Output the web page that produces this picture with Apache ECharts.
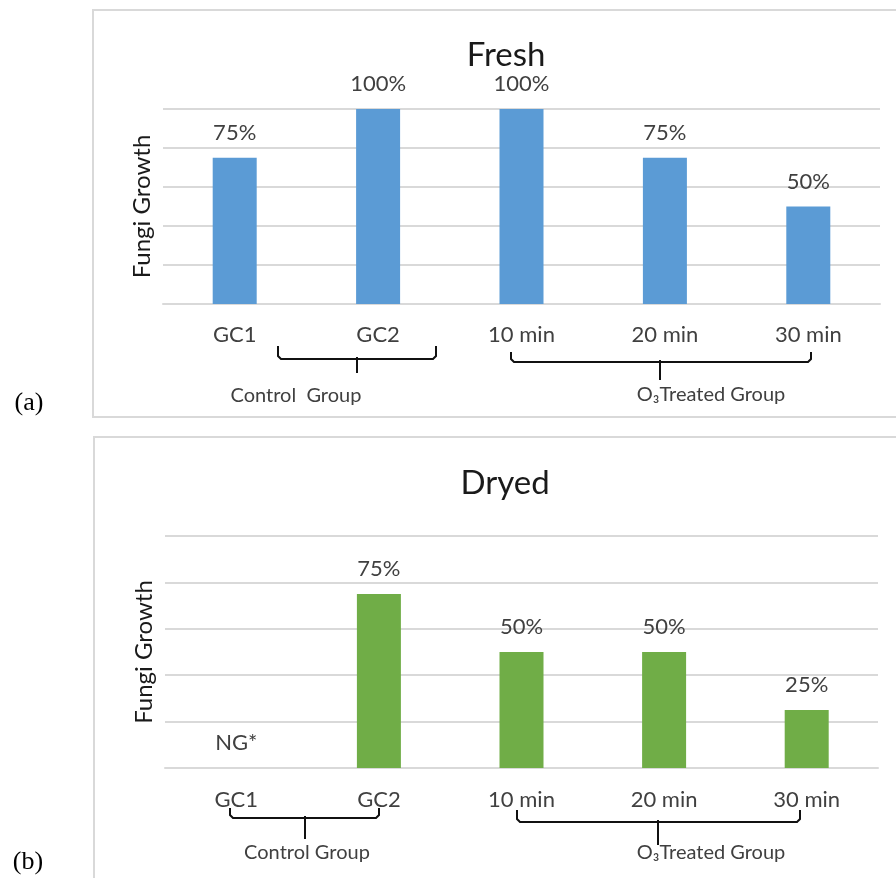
<!DOCTYPE html>
<html>
<head>
<meta charset="utf-8">
<script src="https://cdn.jsdelivr.net/npm/echarts@6/dist/echarts.min.js"></script>
<style>
html,body{margin:0;padding:0;background:#fff;}
#c{width:896px;height:878px;}
</style>
</head>
<body>
<div id="c"></div>
<script>
// ---- data ----
const categories = ['GC1', 'GC2', '10 min', '20 min', '30 min'];
const freshValues = [75, 100, 100, 75, 50];
const freshLabels = ['75%', '100%', '100%', '75%', '50%'];
const dryValues = [0, 75, 50, 50, 25];
const dryLabels = ['NG*', '75%', '50%', '50%', '25%'];
const yMin = 0, yMax = 100, yInterval = 20;
const titles = ['Fresh', 'Dryed'];
const yName = 'Fungi Growth';
const panelTags = ['(a)', '(b)'];
const groupNames = [['Control  Group', 'O₃Treated Group'], ['Control Group', 'O₃Treated Group']];

const FONT = 'Lato';
const GRID_COL = '#d9d9d9';
const TXT = '#404040';

function xAx(gi, margin) {
  return {
    gridIndex: gi, type: 'category', data: categories,
    axisLine: {lineStyle: {color: GRID_COL, width: 2}},
    axisTick: {length: 7, lineStyle: {color: GRID_COL, width: 2}},
    axisLabel: {margin: margin, fontSize: 22, color: TXT, fontFamily: FONT, interval: 0}
  };
}
function yAx(gi) {
  return {
    gridIndex: gi, type: 'value', min: yMin, max: yMax, interval: yInterval,
    axisLabel: {show: false}, axisLine: {show: false}, axisTick: {show: false},
    splitLine: {lineStyle: {color: GRID_COL, width: 2}},
    name: yName, nameLocation: 'middle', nameRotate: 90, nameGap: 9,
    nameTextStyle: {fontSize: 24, color: '#1a1a1a', fontFamily: FONT}
  };
}
function barSeries(gi, values, labels, color) {
  return {
    type: 'bar', xAxisIndex: gi, yAxisIndex: gi, data: values, barWidth: 44,
    itemStyle: {color: color},
    label: {
      show: true, position: 'top', distance: 14, fontSize: 22, color: TXT, fontFamily: FONT,
      formatter: p => labels[p.dataIndex]
    }
  };
}

function bracket(x1, x2, yTop, yH, xs, ySpike) {
  const r = 3;
  return [
    {type: 'polyline', silent: true,
     shape: {points: [[x1, yTop], [x1, yH - r], [x1 + r, yH], [x2 - r, yH], [x2, yH - r], [x2, yTop]]},
     style: {stroke: '#111', lineWidth: 2, fill: null}},
    {type: 'line', silent: true,
     shape: {x1: xs, y1: yH - 2, x2: xs, y2: ySpike},
     style: {stroke: '#111', lineWidth: 2}}
  ];
}
function txt(x, y, s, size, family, color) {
  return {type: 'text', x: x, y: y, silent: true,
    style: {text: s, fontSize: size, fontFamily: family, fill: color, align: 'center', verticalAlign: 'middle'}};
}

const graphics = [
  {type: 'polyline', silent: true, shape: {points: [[896, 10], [93, 10], [93, 417], [896, 417]]},
   style: {stroke: GRID_COL, lineWidth: 2, fill: null}},
  {type: 'polyline', silent: true, shape: {points: [[896, 437], [94, 437], [94, 880]]},
   style: {stroke: GRID_COL, lineWidth: 2, fill: null}},
  txt(29, 403, panelTags[0], 26, 'Liberation Serif', '#000'),
  txt(28, 862, panelTags[1], 26, 'Liberation Serif', '#000'),
  ...bracket(278, 436, 346, 359, 357, 373),
  ...bracket(511, 811, 352, 362, 660, 380),
  ...bracket(230, 379, 808, 818, 305, 839),
  ...bracket(517, 800, 810, 822, 658, 845),
  txt(296, 396, groupNames[0][0], 20, FONT, TXT),
  txt(711, 395, groupNames[0][1], 20, FONT, TXT),
  txt(307, 853, groupNames[1][0], 20, FONT, TXT),
  txt(711, 853, groupNames[1][1], 20, FONT, TXT)
];

const option = {
  animation: false,
  backgroundColor: '#fff',
  title: [
    {text: titles[0], left: 501, top: 34, textAlign: 'center',
     textStyle: {fontSize: 33, fontWeight: 'normal', color: '#1a1a1a', fontFamily: FONT}},
    {text: titles[1], left: 500, top: 462, textAlign: 'center',
     textStyle: {fontSize: 33, fontWeight: 'normal', color: '#1a1a1a', fontFamily: FONT}}
  ],
  grid: [
    {left: 163, width: 717, top: 109, height: 195, outerBoundsMode: 'none'},
    {left: 165, width: 713, top: 536, height: 232, outerBoundsMode: 'none'}
  ],
  xAxis: [xAx(0, 20), xAx(1, 21)],
  yAxis: [yAx(0), yAx(1)],
  series: [
    barSeries(0, freshValues, freshLabels, '#5b9bd5'),
    barSeries(1, dryValues, dryLabels, '#70ad47')
  ],
  graphic: graphics
};

const chart = echarts.init(document.getElementById('c'), null, {renderer: 'canvas'});
chart.setOption(option);
</script>
</body>
</html>
